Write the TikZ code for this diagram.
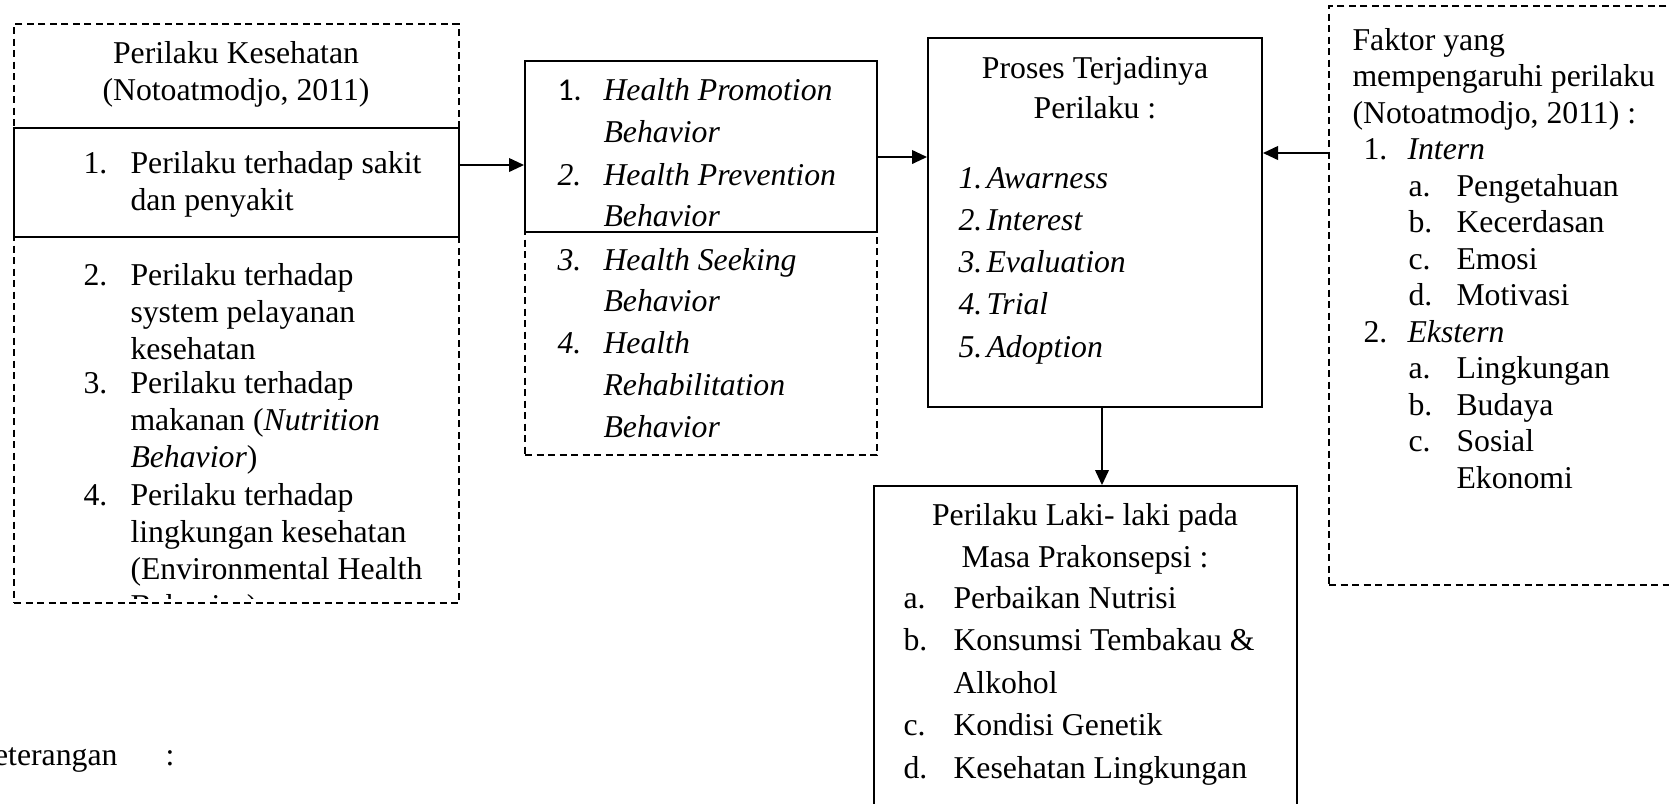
\documentclass[tikz,border=0pt]{standalone}
\usepackage{fontspec}
\setmainfont{Liberation Serif}
\newfontfamily\labelsans{Carlito}
\usetikzlibrary{arrows.meta,fit}

\newcommand{\spacing}[1]{\fontsize{12.7pt}{#1}\selectfont}
\newcommand{\baris}[2][l]{\begin{tabular}[t]{@{}#1@{}}#2\end{tabular}}
\tikzset{
  solidbox/.style={draw, line width=0.8pt, inner sep=0pt},
  dashbox/.style={draw, line width=0.65pt, dash pattern=on 2.8pt off 1.8pt, inner sep=0pt},
  txt/.style={anchor=base west, inner sep=0pt, font=\spacing{14.4pt}},
  ctxt/.style={anchor=base, inner sep=0pt, font=\spacing{14.4pt}},
  conn/.style={line width=0.6pt, -{Triangle[length=6pt,width=5.5pt]}},
}

\begin{document}
\begin{tikzpicture}[x=0.4pt, y=-0.4pt]
  \useasboundingbox (0,0) rectangle (1669,803);

  % kotak-kotak
  \node[dashbox, fit={(14,24) (459,603)}] (sehat) {};
  \node[solidbox, fit={(14,128) (459,237)}] (sakit) {};
  \node[dashbox, fit={(525,61) (877,455)}] (health) {};
  \node[solidbox, fit={(525,61) (877,232)}] (promosi) {};
  \node[solidbox, fit={(928,38) (1262,407)}] (proses) {};
  \node[dashbox, fit={(1329,6) (1720,585)}] (faktor) {};
  \node[solidbox, fit={(874,486) (1297,840)}] (laki) {};

  % Perilaku Kesehatan
  \node[ctxt, font=\spacing{14.8pt}] (sehatjudul) at (236,63) {\baris[c]{Perilaku Kesehatan\\(Notoatmodjo, 2011)}};
  \node[txt] (s1) at (83,173) {1.};
  \node[txt, font=\spacing{14.8pt}] (s1t) at (130,173) {\baris{Perilaku terhadap sakit\\dan penyakit}};
  \node[txt] (s2) at (83,285) {2.};
  \node[txt, font=\spacing{14.8pt}] (s2t) at (130,285) {\baris{Perilaku terhadap\\system pelayanan\\kesehatan}};
  \node[txt] (s3) at (83,393) {3.};
  \node[txt, font=\spacing{14.9pt}] (s3t) at (130,393) {\baris{Perilaku terhadap\\makanan (\textit{Nutrition}\\\textit{Behavior})}};
  \node[txt] (s4) at (83,505) {4.};
  \begin{scope}
    \clip (14,24) rectangle (459,598);
    \node[txt, font=\spacing{14.8pt}] (s4t) at (130,505) {\baris{Perilaku terhadap\\lingkungan kesehatan\\(Environmental Health\\Behavior)}};
  \end{scope}

  % Health behavior
  \node[txt, font=\labelsans\fontsize{12.7pt}{14pt}\selectfont] (h1) at (557,100) {1.};
  \node[txt, font=\spacing{16.8pt}\itshape] (h1t) at (603,100) {\baris{Health Promotion\\Behavior}};
  \node[txt, font=\spacing{14.4pt}\itshape] (h2) at (557,185) {2.};
  \node[txt, font=\spacing{16.4pt}\itshape] (h2t) at (603,185) {\baris{Health Prevention\\Behavior}};
  \node[txt, font=\spacing{14.4pt}\itshape] (h3) at (557,270) {3.};
  \node[txt, font=\spacing{16.4pt}\itshape] (h3t) at (603,270) {\baris{Health Seeking\\Behavior}};
  \node[txt, font=\spacing{14.4pt}\itshape] (h4) at (557,353) {4.};
  \node[txt, font=\spacing{16.8pt}\itshape] (h4t) at (603,353) {\baris{Health\\Rehabilitation\\Behavior}};

  % Proses Terjadinya Perilaku
  \node[ctxt, font=\spacing{16pt}] (prosesjudul) at (1095,78) {\baris[c]{Proses Terjadinya\\Perilaku :}};
  \node[txt, font=\spacing{16.9pt}\itshape] (pnum) at (958,188) {\baris{1.\\2.\\3.\\4.\\5.}};
  \node[txt, font=\spacing{16.9pt}\itshape] (ptahap) at (986,188) {\baris{Awarness\\Interest\\Evaluation\\Trial\\Adoption}};

  % Faktor yang mempengaruhi
  \node[txt, font=\spacing{14.6pt}] (faktorjudul) at (1352,50) {\baris{Faktor yang\\mempengaruhi perilaku\\(Notoatmodjo, 2011) :}};
  \node[txt] (f1) at (1363,159.5) {1.};
  \node[txt, font=\spacing{14.4pt}\itshape] (f1t) at (1407,159.5) {Intern};
  \node[txt, font=\spacing{14.6pt}] (f1a) at (1408,196) {\baris{a.\\b.\\c.\\d.}};
  \node[txt, font=\spacing{14.6pt}] (f1at) at (1456,196) {\baris{Pengetahuan\\Kecerdasan\\Emosi\\Motivasi}};
  \node[txt] (f2) at (1363,342) {2.};
  \node[txt, font=\spacing{14.4pt}\itshape] (f2t) at (1407,342) {Ekstern};
  \node[txt, font=\spacing{14.6pt}] (f2a) at (1408,378.5) {\baris{a.\\b.\\c.}};
  \node[txt, font=\spacing{14.6pt}] (f2at) at (1456,378.5) {\baris{Lingkungan\\Budaya\\Sosial\\Ekonomi}};

  % Perilaku laki-laki
  \node[ctxt, font=\spacing{16.8pt}] (lakijudul) at (1085,525) {\baris[c]{Perilaku Laki- laki pada\\Masa Prakonsepsi :}};
  \foreach \l/\y [count=\i] in {a./608, b./650, c./735, d./778}
    \node[txt] (lk\i) at (903,\y) {\l};
  \node[txt, font=\spacing{17pt}] (lakit) at (953,608) {\baris{Perbaikan Nutrisi\\Konsumsi Tembakau \&\\Alkohol\\Kondisi Genetik\\Kesehatan Lingkungan}};

  % keterangan
  \node[txt, anchor=base east] (ket) at (118,765) {Keterangan};
  \node[ctxt] (ketcolon) at (170,765) {:};

  % panah
  \coordinate (r1) at (0,165);
  \coordinate (r2) at (0,157);
  \coordinate (r3) at (0,153);
  \coordinate (r4) at (1102,0);
  \draw[conn] (sakit.east |- r1) -- (promosi.west |- r1);
  \draw[conn] (promosi.east |- r2) -- (proses.west |- r2);
  \draw[conn] (faktor.west |- r3) -- (proses.east |- r3);
  \draw[conn] (proses.south -| r4) -- (laki.north -| r4);
\end{tikzpicture}
\end{document}
